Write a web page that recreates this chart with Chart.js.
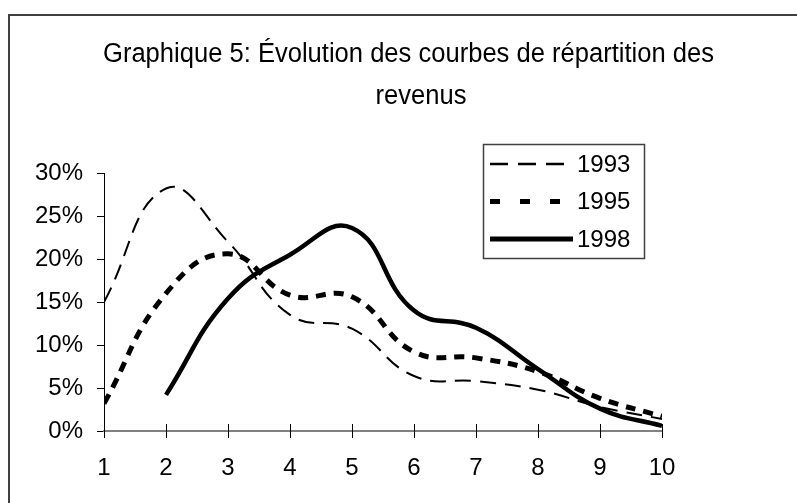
<!DOCTYPE html>
<html>
<head>
<meta charset="utf-8">
<script src="https://cdn.jsdelivr.net/npm/chart.js@4/dist/chart.umd.min.js"></script>
<style>
  html, body { margin: 0; padding: 0; background: #fff; }
  #wrap { width: 797px; height: 503px; }
</style>
</head>
<body>
<div id="wrap"><canvas id="chart" width="797" height="503"></canvas></div>
<script>
const titleLines = ['Graphique 5: Évolution des courbes de répartition des', 'revenus'];
const deciles = [1, 2, 3, 4, 5, 6, 7, 8, 9, 10];
const seriesNames = ['1993', '1995', '1998'];
const values1993 = [15, 28.2, 22, 13.5, 11.9, 6.4, 5.8, 4.8, 2.8, 1.4];
const values1995 = [3.2, 16, 20.6, 15.8, 15.6, 9.2, 8.5, 6.9, 3.8, 1.7];
const values1998 = [null, 4.2, 15.4, 20.5, 23.6, 14, 12, 7.2, 2.6, 0.6];
const yTicks = [0, 5, 10, 15, 20, 25, 30];
// dash patterns as they appear in the boxed legend
const legendDash = [[18, 10], [10, 20], []];

const FONT = 'Liberation Sans, Arial, sans-serif';

const toPoints = (vals) => deciles.map((d, i) => ({ x: d, y: vals[i] }));

// border, crossing x ticks, title and boxed legend
const decorPlugin = {
  id: 'decor',
  afterDraw(chart) {
    const ctx = chart.ctx;
    const xs = chart.scales.x;
    const ys = chart.scales.y;
    ctx.save();
    // frame of the chart (cropped on right/bottom)
    ctx.strokeStyle = '#404040';
    ctx.lineWidth = 2;
    ctx.beginPath();
    ctx.moveTo(9, 503);
    ctx.lineTo(9, 15);
    ctx.lineTo(797, 15);
    ctx.stroke();

    // x tick marks crossing the axis
    const y0 = ys.getPixelForValue(0);
    ctx.strokeStyle = '#000';
    ctx.lineWidth = 1;
    deciles.forEach((d) => {
      const px = Math.round(xs.getPixelForValue(d)) + 0.5;
      ctx.beginPath();
      ctx.moveTo(px, y0 - 7);
      ctx.lineTo(px, y0 + 7);
      ctx.stroke();
    });

    // title, a bit narrow like the original
    ctx.fillStyle = '#000';
    ctx.font = '27px ' + FONT;
    ctx.textBaseline = 'alphabetic';
    ctx.textAlign = 'center';
    const w1 = ctx.measureText(titleLines[0]).width;
    const sx = 611 / w1;
    ctx.save();
    ctx.translate(408.5, 62);
    ctx.scale(sx, 1);
    ctx.fillText(titleLines[0], 0, 0);
    ctx.restore();
    ctx.save();
    ctx.translate(421, 104);
    ctx.scale(sx, 1);
    ctx.fillText(titleLines[1], 0, 0);
    ctx.restore();

    // legend box
    const bx = 483, by = 144, bw = 161, bh = 114;
    ctx.strokeStyle = '#404040';
    ctx.lineWidth = 1.5;
    ctx.strokeRect(bx + 0.5, by + 0.5, bw, bh);
    ctx.font = '24px ' + FONT;
    ctx.textAlign = 'left';
    ctx.textBaseline = 'middle';
    chart.data.datasets.forEach((ds, i) => {
      const ly = 164 + i * 37.5;
      const dash = legendDash[i];
      ctx.strokeStyle = ds.borderColor;
      ctx.lineWidth = i === 0 ? 2.5 : 5;
      ctx.setLineDash(dash);
      ctx.beginPath();
      ctx.moveTo(490, ly);
      ctx.lineTo(dash.length ? 564 : 573, ly);
      ctx.stroke();
      ctx.setLineDash([]);
      ctx.fillText(ds.label, 577, ly + 1);
    });
    ctx.restore();
  }
};

new Chart(document.getElementById('chart'), {
  type: 'line',
  data: {
    datasets: [
      {
        label: seriesNames[0],
        data: toPoints(values1993),
        borderColor: '#000',
        borderWidth: 2,
        borderDash: [16, 9],
        tension: 0.45,
        pointRadius: 0,
        fill: false
      },
      {
        label: seriesNames[1],
        data: toPoints(values1995),
        borderColor: '#000',
        borderWidth: 5,
        borderDash: [10, 8],
        tension: 0.45,
        pointRadius: 0,
        fill: false
      },
      {
        label: seriesNames[2],
        data: toPoints(values1998),
        borderColor: '#000',
        borderWidth: 4.5,
        tension: 0.45,
        pointRadius: 0,
        fill: false
      }
    ]
  },
  options: {
    responsive: false,
    animation: false,
    events: [],
    layout: { padding: { left: 0, top: 173, right: 135, bottom: 0 } },
    plugins: {
      legend: { display: false },
      title: { display: false },
      tooltip: { enabled: false }
    },
    scales: {
      x: {
        type: 'linear',
        min: 1,
        max: 10,
        afterBuildTicks: (scale) => { scale.ticks = deciles.map((v) => ({ value: v })); },
        afterFit: (scale) => { scale.height = 72; },
        grid: { display: false, drawTicks: false },
        border: { display: true, color: '#808080', width: 2 },
        ticks: {
          color: '#000',
          font: { family: FONT, size: 24 },
          padding: 23,
          maxRotation: 0,
          autoSkip: false
        }
      },
      y: {
        min: 0,
        max: 30,
        afterBuildTicks: (scale) => { scale.ticks = yTicks.map((v) => ({ value: v })); },
        afterFit: (scale) => { scale.width = 104; },
        grid: { drawOnChartArea: false, drawTicks: true, tickLength: 7, color: '#000' },
        border: { display: true, color: '#000', width: 1 },
        ticks: {
          color: '#000',
          font: { family: FONT, size: 24 },
          padding: 14,
          callback: (v) => v + '%'
        }
      }
    }
  },
  plugins: [decorPlugin]
});
</script>
</body>
</html>
